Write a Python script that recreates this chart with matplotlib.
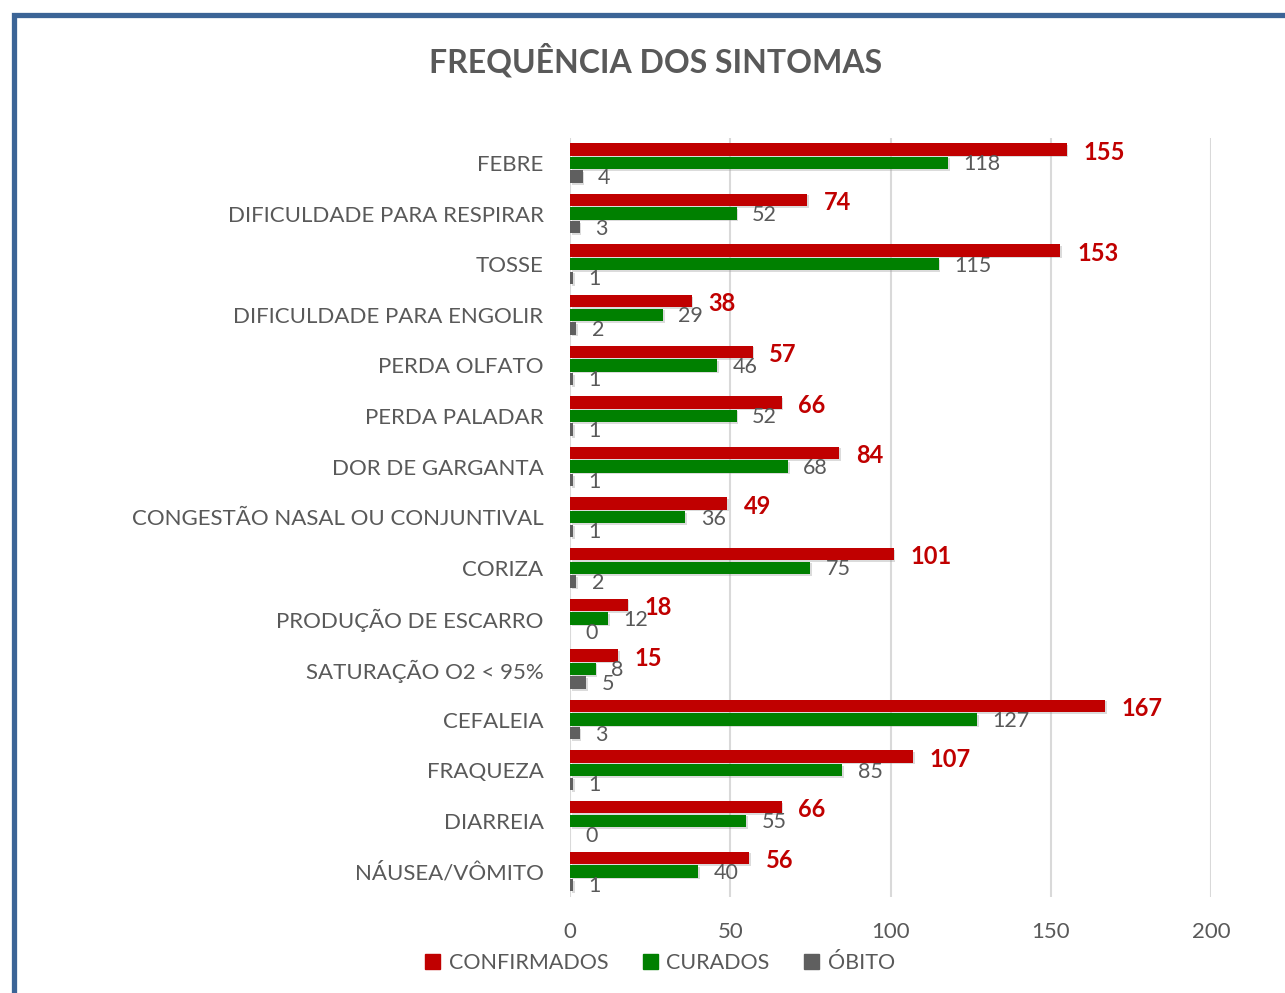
import numpy as np
import matplotlib.pyplot as plt
import matplotlib.patheffects as pe
from matplotlib.patches import Rectangle, Patch

plt.rcParams['font.family'] = ['Lato', 'DejaVu Sans']

sintomas = ['FEBRE', 'DIFICULDADE PARA RESPIRAR', 'TOSSE', 'DIFICULDADE PARA ENGOLIR',
            'PERDA OLFATO', 'PERDA PALADAR', 'DOR DE GARGANTA',
            'CONGESTÃO NASAL OU CONJUNTIVAL', 'CORIZA', 'PRODUÇÃO DE ESCARRO',
            'SATURAÇÃO O2 < 95%', 'CEFALEIA', 'FRAQUEZA', 'DIARREIA', 'NÁUSEA/VÔMITO']
confirmados = [155, 74, 153, 38, 57, 66, 84, 49, 101, 18, 15, 167, 107, 66, 56]
curados = [118, 52, 115, 29, 46, 52, 68, 36, 75, 12, 8, 127, 85, 55, 40]
obito = [4, 3, 1, 2, 1, 1, 1, 1, 2, 0, 5, 3, 1, 0, 1]
series_names = ['CONFIRMADOS', 'CURADOS', 'ÓBITO']

RED = '#C00000'
GREEN = '#008000'
GRAY = '#5F5F5F'
TXT = '#595959'

W, H = 1285, 993
fig = plt.figure(figsize=(W / 100, H / 100), dpi=100)
ax = fig.add_axes([570 / W, 1 - 896.7 / H, (1211 - 570) / W, (896.7 - 137.7) / H])

y = np.arange(len(sintomas))
off = 0.27
bh = 0.245
shadow = [pe.SimplePatchShadow(offset=(1.2, -1.2), shadow_rgbFace='#999999', alpha=0.35), pe.Normal()]

series = [(confirmados, RED, -off), (curados, GREEN, 0), (obito, GRAY, off)]
for (vals, col, dy), name in zip(series, series_names):
    bars = ax.barh(y + dy, vals, height=bh, color=col, label=name, zorder=3)
    for b in bars:
        b.set_path_effects(shadow)
    for yi, v in zip(y + dy, vals):
        if col == RED:
            ax.annotate(str(v), (v, yi), xytext=(12, -2), textcoords='offset points',
                        ha='left', va='center', fontsize=17, fontweight='bold', color=RED)
        else:
            ax.annotate(str(v), (v, yi), xytext=(11, -1), textcoords='offset points',
                        ha='left', va='center', fontsize=15.5, color=TXT)

ax.set_xlim(0, 200)
ax.set_ylim(len(sintomas) - 0.5, -0.5)
ax.set_xticks([0, 50, 100, 150, 200])
ax.set_yticks(y)
ax.set_yticklabels(sintomas)
ax.tick_params(axis='both', length=0, colors=TXT, labelsize=16)
ax.tick_params(axis='y', pad=19)
ax.tick_params(axis='x', pad=18)
ax.grid(axis='x', color='#D9D9D9', lw=1.5, zorder=0)
for s in ax.spines.values():
    s.set_visible(False)

fig.text(656 / W, 1 - 60 / H, 'FREQUÊNCIA DOS SINTOMAS', ha='center', va='center',
         fontsize=23, fontweight='bold', color=TXT)

handles = [Patch(color=c) for c in (RED, GREEN, GRAY)]
fig.legend(handles, series_names, loc='center', bbox_to_anchor=(660 / W, 1 - 963 / H),
           ncol=3, frameon=False, fontsize=15.5, labelcolor=TXT,
           handlelength=0.7, handleheight=0.7, handletextpad=0.4, columnspacing=1.6)

fig.add_artist(Rectangle((13.5 / W, -0.5), 2, 0.5 + 1 - 15 / H, transform=fig.transFigure,
                         fill=False, ec='#3B6496', lw=3.8))

fig.savefig('out.png', dpi=100)
